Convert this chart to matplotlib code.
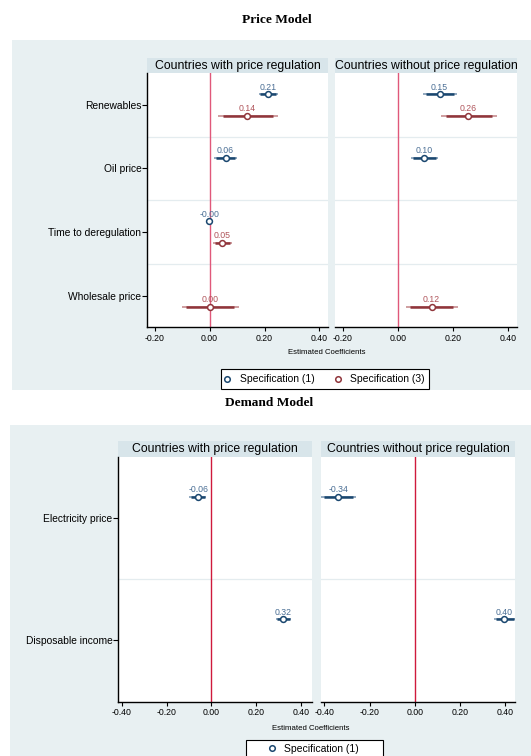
import matplotlib
matplotlib.use('Agg')
import matplotlib.pyplot as plt
import numpy as np
from matplotlib.lines import Line2D

plt.rcParams['font.family'] = ['Liberation Sans', 'DejaVu Sans']

W, H = 531, 756
BG = '#e8f0f2'; STRIP = '#d8e5ea'; GRID = '#e4ecef'
NAVY = '#1a476f'; MAROON = '#90353b'
NAVY_LT = '#8aa3bb'; MAROON_LT = '#cc9699'
NAVY_TXT = '#4b6f95'; MAROON_TXT = '#b0555b'

# ---------------- Price model ----------------
price_vars = ['Renewables', 'Oil price', 'Time to deregulation', 'Wholesale price']

# countries with price regulation, specification (1)
pr_b1   = [0.212, 0.058, -0.002, np.nan]
pr_lo1  = [0.178, 0.017, -0.006, np.nan]
pr_hi1  = [0.250, 0.098,  0.002, np.nan]
pr_ilo1 = [0.185, 0.024, -0.005, np.nan]
pr_ihi1 = [0.243, 0.092,  0.001, np.nan]
# countries with price regulation, specification (3)
pr_b3   = [0.137, np.nan, 0.046, 0.002]
pr_lo3  = [0.029, np.nan, 0.012, -0.102]
pr_hi3  = [0.249, np.nan, 0.080, 0.107]
pr_ilo3 = [0.047, np.nan, 0.018, -0.085]
pr_ihi3 = [0.231, np.nan, 0.074, 0.090]

# countries without price regulation, specification (1)
pn_b1   = [0.151, 0.096, np.nan, np.nan]
pn_lo1  = [0.090, 0.048, np.nan, np.nan]
pn_hi1  = [0.212, 0.145, np.nan, np.nan]
pn_ilo1 = [0.100, 0.056, np.nan, np.nan]
pn_ihi1 = [0.202, 0.137, np.nan, np.nan]
# countries without price regulation, specification (3)
pn_b3   = [0.255, np.nan, np.nan, 0.122]
pn_lo3  = [0.157, np.nan, np.nan, 0.028]
pn_hi3  = [0.358, np.nan, np.nan, 0.216]
pn_ilo3 = [0.173, np.nan, np.nan, 0.043]
pn_ihi3 = [0.342, np.nan, np.nan, 0.201]

price_ticks = [-0.2, 0.0, 0.2, 0.4]
price_xlim = (-0.228, 0.431)

# ---------------- Demand model ----------------
demand_vars = ['Electricity price', 'Disposable income']

dr_b1   = [-0.059, 0.320]
dr_lo1  = [-0.098, 0.287]
dr_hi1  = [-0.023, 0.353]
dr_ilo1 = [-0.092, 0.292]
dr_ihi1 = [-0.029, 0.348]

dn_b1   = [-0.339, 0.395]
dn_lo1  = [-0.413, 0.352]
dn_hi1  = [-0.261, 0.445]
dn_ilo1 = [-0.401, 0.359]
dn_ihi1 = [-0.273, 0.438]

demand_ticks = [-0.4, -0.2, 0.0, 0.2, 0.4]
demand_xlim = (-0.415, 0.445)

panel_titles = ['Countries with price regulation', 'Countries without price regulation']
OFF1, OFF3 = -0.17, 0.17

fig = plt.figure(figsize=(W / 100, H / 100), dpi=100)

# full-figure canvas in pixel units for backgrounds, strips and titles
bg = fig.add_axes([0, 0, 1, 1], zorder=-1)
bg.set_xlim(0, W); bg.set_ylim(H, 0); bg.axis('off')
bg.add_patch(plt.Rectangle((12, 40), W - 12, 350, fc=BG, ec='none'))
bg.add_patch(plt.Rectangle((10, 425), W - 10, H - 425, fc=BG, ec='none'))
bg.text(277, 20, 'Price Model', ha='center', va='center', fontsize=9.6,
        family='Liberation Serif', weight='bold')
bg.text(269, 403, 'Demand Model', ha='center', va='center', fontsize=9.6,
        family='Liberation Serif', weight='bold')


def panel(x0, x1, y0, y1):
    return fig.add_axes([x0 / W, 1 - y1 / H, (x1 - x0) / W, (y1 - y0) / H])


def strip(x0, x1, y0, y1, title):
    bg.add_patch(plt.Rectangle((x0, y0), x1 - x0, y1 - y0, fc=STRIP, ec='none'))
    bg.text((x0 + x1) / 2, (y0 + y1) / 2 + 0.5, title, ha='center', va='center', fontsize=8.8)


def setup(ax, xlim, ticks, labels, zero_col, show_y):
    n = len(labels)
    ax.set_xlim(xlim); ax.set_ylim(n - 0.5, -0.5)
    ax.set_xticks(ticks)
    ax.set_xticklabels([f'{t:.2f}' for t in ticks], fontsize=6.3)
    for g in np.arange(0.5, n - 0.5):
        ax.axhline(g, color=GRID, lw=0.9, zorder=1)
    ax.axvline(0, color=zero_col, lw=1.0, zorder=2)
    ax.spines[['top', 'right']].set_visible(False)
    ax.spines['bottom'].set_linewidth(1.0)
    ax.tick_params(axis='x', length=3, width=0.8, pad=1.8)
    if show_y:
        ax.set_yticks(range(n))
        ax.set_yticklabels(labels, fontsize=7.4)
        ax.spines['left'].set_linewidth(1.0)
        ax.tick_params(axis='y', length=3.5, width=0.8, pad=0.6)
    else:
        ax.set_yticks([])
        ax.spines['left'].set_visible(False)


def draw_spec(ax, b, lo, hi, ilo, ihi, off, col, col_lt, txt_col):
    y = np.arange(len(b)) + off
    ax.hlines(y, lo, hi, color=col_lt, lw=1.3, zorder=3)
    ax.hlines(y, ilo, ihi, color=col, lw=1.8, zorder=4)
    ax.plot(b, y, 'o', ms=4.2, mfc='white', mec=col, mew=1.1, zorder=5, clip_on=False)
    for yi, bi in zip(y, b):
        if np.isnan(bi):
            continue
        ax.annotate(f'{bi:.2f}', (bi, yi), xytext=(0, 3.2), textcoords='offset points',
                    ha='center', va='baseline', fontsize=6.3, color=txt_col)


# ---- price model panels ----
PZERO = '#e0587a'
ax1 = panel(147, 328, 73, 327.5)
setup(ax1, price_xlim, price_ticks, price_vars, PZERO, True)
draw_spec(ax1, pr_b1, pr_lo1, pr_hi1, pr_ilo1, pr_ihi1, OFF1, NAVY, NAVY_LT, NAVY_TXT)
draw_spec(ax1, pr_b3, pr_lo3, pr_hi3, pr_ilo3, pr_ihi3, OFF3, MAROON, MAROON_LT, MAROON_TXT)

ax2 = panel(335, 517, 73, 327.5)
setup(ax2, price_xlim, price_ticks, price_vars, PZERO, False)
draw_spec(ax2, pn_b1, pn_lo1, pn_hi1, pn_ilo1, pn_ihi1, OFF1, NAVY, NAVY_LT, NAVY_TXT)
draw_spec(ax2, pn_b3, pn_lo3, pn_hi3, pn_ilo3, pn_ihi3, OFF3, MAROON, MAROON_LT, MAROON_TXT)

strip(147, 328, 57.7, 73, panel_titles[0])
strip(335, 517, 57.7, 73, panel_titles[1])
bg.text(327, 353, 'Estimated Coefficients', ha='center', va='center', fontsize=5.6)

# ---- demand model panels ----
DZERO = '#cf1a3c'
ax3 = panel(118.2, 311.5, 456.5, 701.5)
setup(ax3, demand_xlim, demand_ticks, demand_vars, DZERO, True)
draw_spec(ax3, dr_b1, dr_lo1, dr_hi1, dr_ilo1, dr_ihi1, OFF1, NAVY, NAVY_LT, NAVY_TXT)

ax4 = panel(321, 515.4, 456.5, 701.5)
setup(ax4, demand_xlim, demand_ticks, demand_vars, DZERO, False)
draw_spec(ax4, dn_b1, dn_lo1, dn_hi1, dn_ilo1, dn_ihi1, OFF1, NAVY, NAVY_LT, NAVY_TXT)

strip(118.2, 311.5, 441, 456.5, panel_titles[0])
strip(321, 515.4, 441, 456.5, panel_titles[1])
bg.text(311, 728, 'Estimated Coefficients', ha='center', va='center', fontsize=5.6)

# ---- legends ----
h1 = Line2D([], [], marker='o', ls='none', ms=4, mfc='white', mec=NAVY, mew=1.1)
h3 = Line2D([], [], marker='o', ls='none', ms=4, mfc='white', mec=MAROON, mew=1.1)

bg.add_patch(plt.Rectangle((220.7, 369), 208.6, 20, fc='white', ec='black', lw=0.8))
fig.legend([h1, h3], ['Specification (1)', 'Specification (3)'], loc='center', ncol=2,
           bbox_to_anchor=(325 / W, 1 - 379.2 / H), bbox_transform=fig.transFigure,
           frameon=False, fontsize=7.5, handlelength=0.4, handletextpad=1.0,
           columnspacing=2.0, borderpad=0.2)

bg.add_patch(plt.Rectangle((246, 739.5), 136.7, 19, fc='white', ec='black', lw=0.8))
fig.legend([h1], ['Specification (1)'], loc='center',
           bbox_to_anchor=(314.4 / W, 1 - 748.5 / H), bbox_transform=fig.transFigure,
           frameon=False, fontsize=7.5, handlelength=0.4, handletextpad=1.0, borderpad=0.2)

fig.savefig('out.png', dpi=100)
